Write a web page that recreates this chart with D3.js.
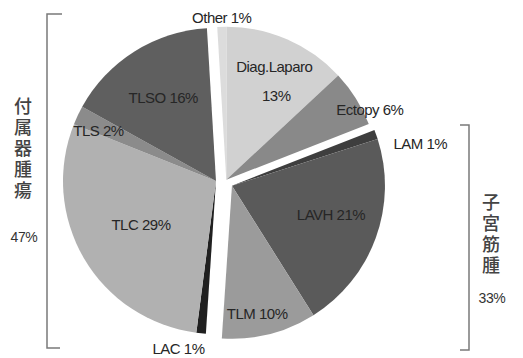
<!DOCTYPE html>
<html>
<head>
<meta charset="utf-8">
<script src="https://cdnjs.cloudflare.com/ajax/libs/d3/7.8.5/d3.min.js"></script>
<style>
  body { margin: 0; background: #fff; }
  text { font-family: "Liberation Sans", Arial, sans-serif; }
</style>
</head>
<body>
<svg id="chart"></svg>
<script>
// slices, clockwise from 12 o'clock
const labels = ["Other", "Diag.Laparo", "Ectopy", "LAM", "LAVH", "TLM", "LAC", "TLC", "TLS", "TLSO"];
const values = [1, 13, 6, 1, 21, 10, 1, 29, 2, 16];
const groupOf = ["diag", "diag", "diag", "uterus", "uterus", "uterus", "adnexa", "adnexa", "adnexa", "adnexa"];

// bracketed groups
const groupNames = ["付属器腫瘍", "子宮筋腫"];
const groupPcts = ["47%", "33%"];

const W = 523, H = 358;
const R = 153;
const cx = 225.5, cy = 181;
const rot = -3.4 * Math.PI / 180;

const colors = ["#dcdcdc", "#d1d1d1", "#898989", "#3e3e3e", "#5a5a5a", "#9b9b9b", "#202020", "#b1b1b1", "#8b8b8b", "#5f5f5f"];
const explode = {diag: 1.5, uterus: 8, adnexa: 9.5};
// label placement: [radius, angle nudge in degrees]
const labelPos = [[162, 0], [111, 2], [160, 6], [193, 7], [103, -4], [130, 3], [172, 7], [87, 0], [128, -2], [99, 0]];

const svg = d3.select("#chart").attr("width", W).attr("height", H);

const pie = d3.pie().sort(null).value(d => d).startAngle(rot).endAngle(rot + 2 * Math.PI);
const arcs = pie(values);
const arc = d3.arc().innerRadius(0).outerRadius(R);

// mid angle of each group for exploding
const groupMid = {};
d3.groups(arcs.map((a, i) => ({a, g: groupOf[i]})), d => d.g).forEach(([g, list]) => {
  groupMid[g] = (list[0].a.startAngle + list[list.length - 1].a.endAngle) / 2;
});
function apex(g) {
  const m = groupMid[g], d = explode[g];
  return [cx + d * Math.sin(m), cy - d * Math.cos(m)];
}

const slices = svg.append("g");
arcs.forEach((a, i) => {
  const [ox, oy] = apex(groupOf[i]);
  slices.append("path")
    .attr("transform", `translate(${ox},${oy})`)
    .attr("d", arc(a))
    .attr("fill", colors[i]);
});

// slice labels
const lab = svg.append("g").attr("fill", "#262626").attr("font-size", 15)
  .attr("letter-spacing", -0.5).attr("text-anchor", "middle");
arcs.forEach((a, i) => {
  const [ox, oy] = apex(groupOf[i]);
  const m = (a.startAngle + a.endAngle) / 2 + labelPos[i][1] * Math.PI / 180;
  const r = labelPos[i][0];
  const x = ox + r * Math.sin(m), y = oy - r * Math.cos(m);
  const t = lab.append("text").attr("x", x).attr("y", y).attr("dominant-baseline", "central");
  if (labels[i] === "Diag.Laparo") {
    t.append("tspan").attr("x", x).attr("dy", "-0.9em").text(labels[i]);
    t.append("tspan").attr("x", x + 2).attr("dy", "1.9em").text(values[i] + "%");
  } else {
    t.text(labels[i] + " " + values[i] + "%");
  }
});

// brackets
const br = svg.append("g").attr("fill", "none").attr("stroke", "#7a7a7a").attr("stroke-width", 1.5);
br.append("path").attr("d", "M62,14H47V348H60");
br.append("path").attr("d", "M460,125H469V350H460");

// vertical group titles
function vTitle(str, pct, x, y0, pctY) {
  const g = svg.append("g").attr("fill", "#444");
  g.append("text").attr("x", x).attr("y", y0)
    .style("writing-mode", "vertical-rl")
    .style("font-family", '"Noto Sans CJK JP", sans-serif')
    .attr("font-size", 18).attr("font-weight", 500)
    .attr("letter-spacing", 3).text(str);
  g.append("text").attr("x", x + 1).attr("y", pctY).attr("dominant-baseline", "central")
    .attr("text-anchor", "middle")
    .attr("font-size", 14).attr("letter-spacing", -0.4).attr("fill", "#333").text(pct);
}
vTitle(groupNames[0], groupPcts[0], 23, 97, 237);
vTitle(groupNames[1], groupPcts[1], 491, 193, 298);
</script>
</body>
</html>
